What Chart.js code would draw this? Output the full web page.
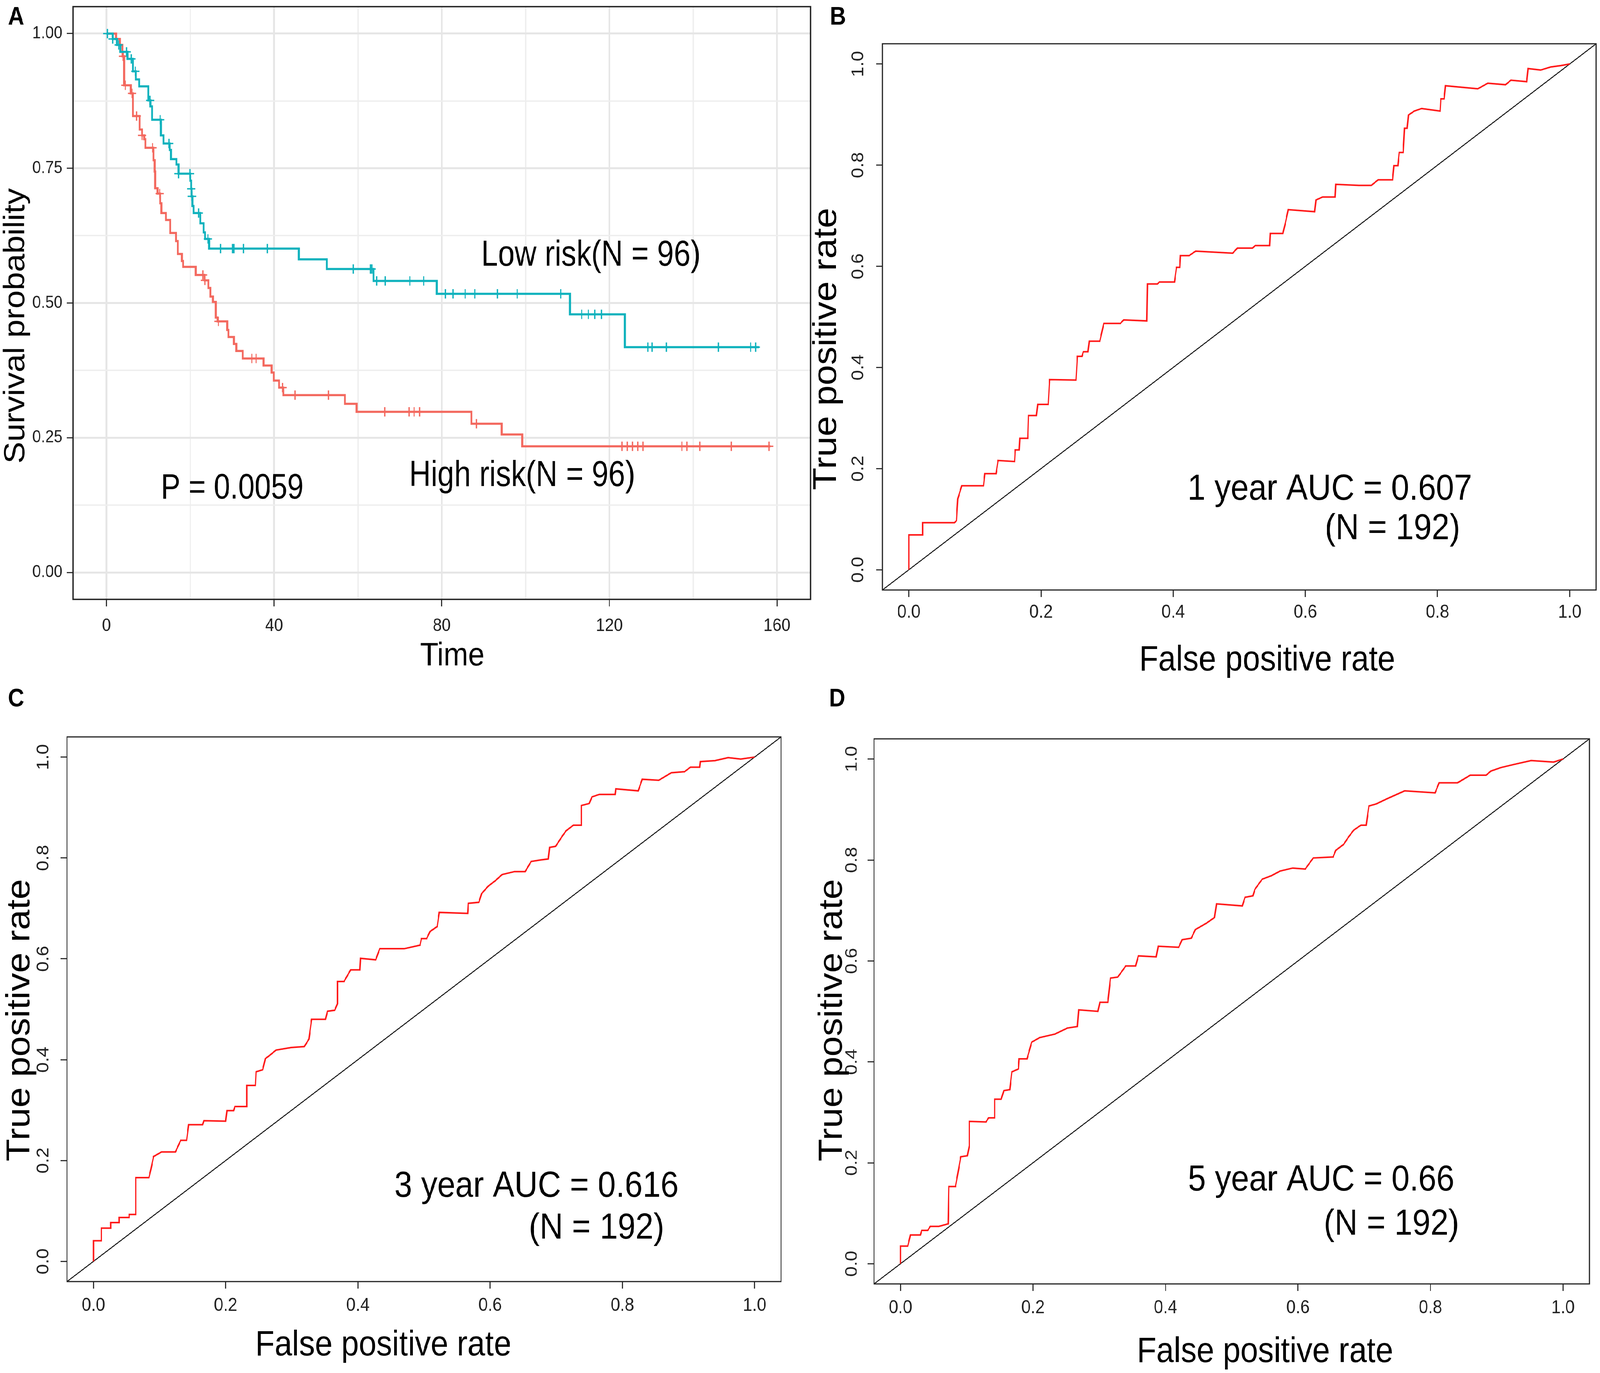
<!DOCTYPE html>
<html>
<head>
<meta charset="utf-8">
<script src="https://cdn.jsdelivr.net/npm/chart.js@4.4.1/dist/chart.umd.min.js"></script>
<style>
  html, body { margin: 0; padding: 0; background: #fff; overflow: hidden; }
  #wrap { width: 4562px; height: 3514px; overflow: hidden; position: relative; }
  #page { width: 4562px; height: 3514px; position: absolute; left: 0; top: 0; transform-origin: 0 0; background: #fff; }
  canvas { position: absolute; }
</style>
</head>
<body>
<div id="wrap">
<div id="page">
<canvas id="panelA" width="2316" height="1750" style="left:0px;top:0px;width:2316px;height:1750px"></canvas>
<canvas id="panelB" width="2246" height="1750" style="left:2316px;top:0px;width:2246px;height:1750px"></canvas>
<canvas id="panelC" width="2300" height="1764" style="left:0px;top:1750px;width:2300px;height:1764px"></canvas>
<canvas id="panelD" width="2246" height="1764" style="left:2316px;top:1750px;width:2246px;height:1764px"></canvas>
</div>
</div>
<script>
// ---- Panel A: Kaplan-Meier ----
const kmLowTime = [0, 1.5, 2.5, 3.3, 5.0, 6.3, 7.0, 7.8, 10.0, 10.5, 10.9, 13.0, 13.6, 15.1, 15.4, 16.7, 17.2,
  20.0, 20.2, 20.3, 20.5, 20.8, 22.4, 23.2, 23.5, 24.5, 45.9, 52.6, 63.7, 78.8, 110.6, 123.7, 155.7];
const kmLowSurv = [1.0, 0.99, 0.979, 0.966, 0.953, 0.93, 0.915, 0.902, 0.876, 0.865, 0.84, 0.811, 0.796, 0.784, 0.767, 0.757, 0.74,
  0.727, 0.712, 0.698, 0.68, 0.667, 0.648, 0.631, 0.619, 0.601, 0.581, 0.563, 0.541, 0.517, 0.479, 0.418, 0.418];
const kmLowCensor = [0.2, 1.5, 2.9, 4.8, 5.9, 6.9, 10.4, 12.8, 14.9, 17.2, 19.9, 20.2, 20.4, 22.0, 24.2, 27.2, 30.1,
  30.4, 32.7, 38.4, 58.9, 63.0, 63.3, 64.5, 66.5, 72.4, 75.7, 80.9, 82.7, 85.6, 87.9, 93.3, 98.0, 108.4, 113.4,
  115.0, 116.5, 118.1, 129.2, 130.2, 133.6, 146.0, 153.7, 154.9];

const kmHighTime = [0, 2.3, 3.2, 3.8, 4.2, 5.8, 6.3, 7.9, 8.5, 9.0, 9.3, 11.2, 11.5, 11.6, 12.2, 12.8, 13.1, 14.2,
  15.2, 16.6, 17.0, 18.0, 18.3, 21.3, 23.4, 24.3, 24.8, 25.4, 26.1, 26.5, 28.8, 29.1, 30.4, 31.0, 32.5, 37.5,
  39.4, 39.9, 41.2, 42.2, 56.9, 59.7, 87.1, 94.3, 99.2, 158.4];
const kmHighSurv = [1.0, 0.99, 0.979, 0.958, 0.904, 0.889, 0.847, 0.822, 0.811, 0.804, 0.788, 0.765, 0.744, 0.713,
  0.703, 0.685, 0.667, 0.654, 0.63, 0.615, 0.591, 0.578, 0.567, 0.552, 0.542, 0.528, 0.512, 0.502, 0.473, 0.466,
  0.45, 0.437, 0.424, 0.411, 0.397, 0.384, 0.371, 0.356, 0.343, 0.329, 0.313, 0.298, 0.276, 0.256, 0.234, 0.234];
const kmHighCensor = [4.0, 4.5, 6.1, 7.2, 8.5, 11.0, 12.7, 23.0, 23.5, 26.7, 34.7, 35.7, 42.0, 45.0, 53.0, 66.4,
  72.2, 73.4, 74.7, 88.3, 123.0, 124.3, 125.5, 126.8, 128.0, 137.3, 138.5, 141.6, 149.1, 158.1];

// ---- Panels B-D: ROC curves ----
const rocB_fpr = [0, 0, .021, .021, .069, .072, .074, .080, .113, .115, .132, .135, .160, .161, .167, .168, .180, .181,
  .193, .195, .211, .213, .253, .255, .262, .264, .271, .273, .289, .295, .320, .325, .360, .361, .376, .379, .402,
  .405, .410, .411, .424, .434, .490, .497, .520, .524, .546, .547, .566, .570, .574, .614, .616, .626, .645, .646,
  .681, .700, .710, .732, .734, .740, .742, .748, .750, .754, .756, .765, .776, .804, .805, .810, .812, .861, .876,
  .903, .911, .935, .937, .956, .971, .987, 1];
const rocB_tpr = [0, .069, .069, .093, .093, .097, .140, .166, .166, .190, .190, .216, .214, .237, .237, .260, .260, .305,
  .305, .327, .327, .376, .375, .422, .422, .431, .431, .452, .452, .487, .487, .494, .492, .565, .565, .569, .569,
  .598, .598, .621, .621, .630, .626, .636, .636, .641, .641, .665, .665, .687, .712, .708, .731, .737, .737, .762,
  .760, .760, .771, .771, .799, .799, .825, .825, .873, .873, .899, .907, .912, .907, .931, .931, .957, .951, .962,
  .959, .968, .965, .991, .988, .994, .997, 1];

const rocC_fpr = [0, 0, .012, .012, .026, .026, .039, .039, .054, .054, .064, .064, .084, .087, .091, .103, .124, .132,
  .141, .144, .165, .167, .200, .202, .212, .214, .232, .232, .245, .246, .256, .260, .268, .276, .299, .319, .326,
  .330, .351, .354, .365, .369, .369, .379, .389, .403, .404, .427, .433, .470, .494, .496, .504, .509, .520, .523,
  .566, .567, .583, .587, .597, .608, .618, .637, .653, .662, .676, .688, .690, .699, .709, .715, .726, .738, .738,
  .750, .754, .765, .789, .790, .824, .830, .855, .874, .894, .903, .917, .918, .940, .960, .979, 1];
const rocC_tpr = [0, .041, .041, .066, .066, .077, .077, .087, .087, .093, .093, .166, .166, .183, .208, .217, .217, .240,
  .240, .271, .271, .279, .278, .299, .299, .307, .307, .349, .349, .376, .380, .402, .410, .419, .424, .426, .441,
  .480, .480, .496, .498, .511, .555, .555, .578, .578, .601, .598, .620, .620, .627, .640, .640, .654, .664, .692,
  .690, .710, .712, .729, .744, .755, .767, .773, .773, .793, .796, .798, .821, .823, .843, .854, .865, .865, .904,
  .908, .921, .926, .926, .937, .933, .956, .954, .969, .971, .980, .980, .991, .993, .999, .996, 1];

const rocD_fpr = [0, 0, .011, .015, .030, .032, .041, .045, .058, .072, .073, .083, .087, .091, .101, .104, .104, .129,
  .133, .142, .142, .152, .156, .165, .168, .178, .179, .191, .198, .210, .233, .252, .267, .269, .298, .301, .313,
  .317, .328, .340, .355, .359, .386, .389, .420, .425, .439, .445, .462, .474, .477, .516, .520, .532, .535, .546,
  .560, .573, .592, .611, .623, .653, .657, .669, .676, .684, .695, .703, .707, .718, .734, .761, .807, .813, .841,
  .860, .884, .891, .906, .925, .952, .986, 1];
const rocD_tpr = [0, .035, .035, .057, .057, .066, .066, .074, .074, .079, .153, .153, .182, .212, .214, .234, .282, .281,
  .289, .289, .326, .326, .343, .345, .380, .386, .406, .406, .439, .448, .455, .467, .470, .503, .500, .518, .518,
  .566, .568, .590, .590, .610, .608, .629, .627, .642, .645, .662, .675, .686, .713, .709, .726, .729, .742, .762,
  .769, .778, .784, .782, .804, .806, .819, .831, .845, .859, .869, .869, .907, .911, .921, .937, .933, .953, .953,
  .968, .968, .976, .983, .989, .997, .994, 1];

const rocAxisMin = -0.04;
const rocAxisMax = 1.04;

// ---- look ----
const FONT = '"Liberation Sans", Arial, Helvetica, sans-serif';
const TEAL = '#10b2bd';
const SALMON = '#f3695f';
const GRID_MAJOR = '#e6e6e6';
const GRID_MINOR = '#eeeeee';

// the window's css size can differ from the 4562x3514 picture: stretch the page to fill it
(() => {
  const kx = window.innerWidth / 4562;
  const ky = window.innerHeight / 3514;
  if (kx > 0 && ky > 0 && (Math.abs(kx - 1) > 0.001 || Math.abs(ky - 1) > 0.001)) {
    document.getElementById("page").style.transform = `scale(${kx}, ${ky})`;
    const wrap = document.getElementById("wrap");
    wrap.style.width = `${4562 * kx}px`;
    wrap.style.height = `${3514 * ky}px`;
  }
})();

function survAt(times, surv, t) {
  let s = surv[0];
  for (let i = 0; i < times.length; i++) {
    if (times[i] <= t + 1e-9) s = surv[i];
  }
  return s;
}

function pts(xs, ys) {
  return xs.map((x, i) => ({ x, y: ys[i] }));
}

// frame + free text (panel letters, axis titles, annotations)
const panelText = {
  id: "panelText",
  afterDraw(chart, args, opts) {
    const { ctx, chartArea: a } = chart;
    const sx = chart.scales.x;
    const sy = chart.scales.y;
    ctx.save();
    ctx.strokeStyle = opts.boxColor;
    ctx.lineWidth = opts.boxWidth;
    ctx.strokeRect(a.left, a.top, a.right - a.left, a.bottom - a.top);
    (opts.items || []).forEach((it) => {
      let px = it.px;
      let py = it.py;
      if (it.data) {
        px = sx.getPixelForValue(it.data[0]);
        py = sy.getPixelForValue(it.data[1]);
      }
      ctx.save();
      ctx.translate(px, py);
      if (it.rotate) ctx.rotate(it.rotate);
      if (it.squeeze) ctx.scale(it.squeeze, 1);
      ctx.font = it.font;
      ctx.fillStyle = "#000";
      ctx.textAlign = "center";
      ctx.textBaseline = "middle";
      ctx.fillText(it.text, 0, 0);
      ctx.restore();
    });
    ctx.restore();
  },
};

function baseOptions(padding) {
  return {
    animation: false,
    responsive: false,
    devicePixelRatio: 1,
    events: [],
    layout: { padding, autoPadding: false },
    plugins: { legend: { display: false }, tooltip: { enabled: false } },
  };
}

// ---------------- Panel A ----------------
(() => {
  const isMajorX = (v) => Math.abs(v % 40) < 1e-6;
  const isMajorY = (v) => Math.round(v * 8) % 2 === 0;
  const opts = baseOptions({ left: 0, top: 17, right: 5, bottom: 0 });
  opts.scales = {
    x: {
      type: "linear",
      min: -8,
      max: 168,
      border: { display: false },
      grid: {
        color: (c) => (c.tick && isMajorX(c.tick.value) ? GRID_MAJOR : GRID_MINOR),
        lineWidth: (c) => (c.tick && isMajorX(c.tick.value) ? 5 : 3.5),
        tickLength: 18,
        tickWidth: 3,
        tickColor: (c) => (c.tick && isMajorX(c.tick.value) ? "#333" : "rgba(0,0,0,0)"),
      },
      ticks: {
        stepSize: 20,
        includeBounds: false,
        autoSkip: false,
        maxRotation: 0,
        padding: 23,
        color: "#222",
        font: { family: FONT, size: 46 },
        callback: (v) => (isMajorX(v) ? String(v) : ""),
      },
      afterFit: (s) => {
        s.height = 216;
        s.paddingLeft = 0;
        s.paddingRight = 0;
      },
    },
    y: {
      type: "linear",
      min: -0.05,
      max: 1.05,
      border: { display: false },
      grid: {
        color: (c) => (c.tick && isMajorY(c.tick.value) ? GRID_MAJOR : GRID_MINOR),
        lineWidth: (c) => (c.tick && isMajorY(c.tick.value) ? 5 : 3.5),
        tickLength: 18,
        tickWidth: 3,
        tickColor: (c) => (c.tick && isMajorY(c.tick.value) ? "#333" : "rgba(0,0,0,0)"),
      },
      ticks: {
        stepSize: 0.125,
        includeBounds: false,
        autoSkip: false,
        padding: 12,
        color: "#222",
        font: { family: FONT, size: 44 },
        callback: (v) => (isMajorY(v) ? v.toFixed(2) : ""),
      },
      afterFit: (s) => {
        s.width = 208;
        s.paddingTop = 0;
        s.paddingBottom = 0;
      },
    },
  };
  opts.plugins.panelText = {
    boxColor: "#222",
    boxWidth: 3.5,
    items: [
      { text: "A", px: 46, py: 45, font: `bold 64px ${FONT}` },
      { text: "Time", px: 1290, py: 1680, font: `84px ${FONT}` },
      { text: "Survival probability", px: 46, py: 834, rotate: -Math.PI / 2, font: `84px ${FONT}` },
      { text: "Low risk(N = 96)", data: [115.6, 0.588], font: `92px ${FONT}`, squeeze: 0.93 },
      { text: "High risk(N = 96)", data: [99.2, 0.179], font: `92px ${FONT}`, squeeze: 0.93 },
      { text: "P = 0.0059", data: [30.0, 0.155], font: `90px ${FONT}`, squeeze: 0.93 },
    ],
  };

  new Chart(document.getElementById("panelA"), {
    type: "scatter",
    plugins: [panelText],
    options: opts,
    data: {
      datasets: [
        {
          data: pts(kmLowTime, kmLowSurv),
          showLine: true,
          stepped: true,
          borderColor: TEAL,
          borderWidth: 5.5,
          pointRadius: 0,
          order: 0,
        },
        {
          data: kmLowCensor.map((t) => ({ x: t, y: survAt(kmLowTime, kmLowSurv, t) })),
          showLine: false,
          pointStyle: "cross",
          pointRadius: 12,
          borderColor: TEAL,
          borderWidth: 3.5,
          order: 0,
        },
        {
          data: pts(kmHighTime, kmHighSurv),
          showLine: true,
          stepped: true,
          borderColor: SALMON,
          borderWidth: 5.5,
          pointRadius: 0,
          order: 1,
        },
        {
          data: kmHighCensor.map((t) => ({ x: t, y: survAt(kmHighTime, kmHighSurv, t) })),
          showLine: false,
          pointStyle: "cross",
          pointRadius: 12,
          borderColor: SALMON,
          borderWidth: 3.5,
          order: 1,
        },
      ],
    },
  });
})();

// ---------------- ROC panels ----------------
function rocChart(id, p) {
  const opts = baseOptions({ left: 0, top: p.top, right: p.right, bottom: 0 });
  const tickCommon = {
    stepSize: 0.2,
    includeBounds: false,
    autoSkip: false,
    color: "#222",
    font: { family: FONT, size: 48 },
    callback: (v) => v.toFixed(1),
  };
  const gridCommon = {
    drawOnChartArea: false,
    tickLength: 18,
    tickWidth: 3,
    tickColor: "#333",
  };
  opts.scales = {
    x: {
      type: "linear",
      min: rocAxisMin,
      max: rocAxisMax,
      border: { display: false },
      grid: gridCommon,
      ticks: Object.assign({}, tickCommon, { maxRotation: 0, padding: p.xPad }),
      afterFit: (s) => {
        s.height = p.xHeight;
        s.paddingLeft = 0;
        s.paddingRight = 0;
      },
    },
    y: {
      type: "linear",
      min: rocAxisMin,
      max: rocAxisMax,
      border: { display: false },
      grid: gridCommon,
      ticks: Object.assign({}, tickCommon, {
        minRotation: 90,
        maxRotation: 90,
        crossAlign: "center",
        padding: p.yPad,
      }),
      afterFit: (s) => {
        s.width = p.yWidth;
        s.paddingTop = 0;
        s.paddingBottom = 0;
      },
    },
  };
  opts.plugins.panelText = {
    boxColor: "#222",
    boxWidth: 3,
    items: [
      { text: p.letter, px: p.letterAt[0], py: p.letterAt[1], font: `bold 64px ${FONT}` },
      { text: "False positive rate", px: p.xTitleAt[0], py: p.xTitleAt[1], font: `90px ${FONT}` },
      { text: "True positive rate", px: p.yTitleAt[0], py: p.yTitleAt[1], rotate: -Math.PI / 2, font: `94px ${FONT}` },
      { text: p.auc, data: p.aucAt, font: `92px ${FONT}` },
      { text: "(N = 192)", data: p.nAt, font: `92px ${FONT}` },
    ],
  };

  new Chart(document.getElementById(id), {
    type: "scatter",
    plugins: [panelText],
    options: opts,
    data: {
      datasets: [
        {
          data: pts(p.fpr, p.tpr),
          showLine: true,
          borderColor: "#ff1a1a",
          borderWidth: 4,
          pointRadius: 0,
          order: 0,
        },
        {
          data: pts([rocAxisMin, rocAxisMax], [rocAxisMin, rocAxisMax]),
          showLine: true,
          borderColor: "#111",
          borderWidth: 2.5,
          pointRadius: 0,
          order: 1,
        },
      ],
    },
  });
}

rocChart("panelB", {
  fpr: rocB_fpr, tpr: rocB_tpr, letter: "B", auc: "1 year AUC = 0.607",
  top: 112, right: 11, yWidth: 200, xHeight: 240, xPad: 11, yPad: 17,
  letterAt: [73, 45], xTitleAt: [1297, 1691], yTitleAt: [42, 893],
  aucAt: [0.637, 0.158], nAt: [0.732, 0.080],
});
rocChart("panelC", {
  fpr: rocC_fpr, tpr: rocC_tpr, letter: "C", auc: "3 year AUC = 0.616",
  top: 136, right: 73, yWidth: 191, xHeight: 234, xPad: 15, yPad: 15,
  letterAt: [46, 40], xTitleAt: [1093, 1694], yTitleAt: [58, 861],
  aucAt: [0.670, 0.148], nAt: [0.761, 0.065],
});
rocChart("panelD", {
  fpr: rocD_fpr, tpr: rocD_tpr, letter: "D", auc: "5 year AUC = 0.66",
  top: 141, right: 30, yWidth: 176, xHeight: 228, xPad: 15, yPad: 11,
  letterAt: [71, 40], xTitleAt: [1291, 1711], yTitleAt: [58, 861],
  aucAt: [0.635, 0.165], nAt: [0.741, 0.077],
});
</script>
</body>
</html>
